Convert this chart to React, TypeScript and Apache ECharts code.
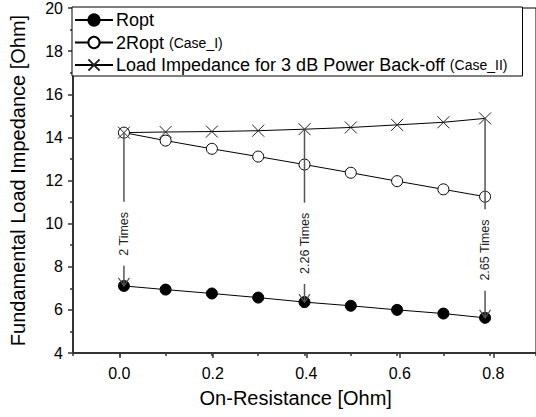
import React, { useEffect, useRef } from "react";
import * as echarts from "echarts";

const xValues = [0.01, 0.1, 0.2, 0.3, 0.4, 0.5, 0.6, 0.7, 0.79];
const ropt = [7.11, 6.94, 6.76, 6.57, 6.36, 6.19, 6.0, 5.83, 5.63];
const twoRopt = [14.22, 13.85, 13.47, 13.11, 12.74, 12.36, 11.97, 11.59, 11.25];
const backoff = [14.22, 14.25, 14.27, 14.31, 14.38, 14.46, 14.58, 14.7, 14.88];

const arrowX = [0.01, 0.4, 0.79];
const arrowTop = [14.22, 14.38, 14.88];
const arrowBottom = [7.11, 6.36, 5.63];
const arrowLabels = ["2 Times", "2.26 Times", "2.65 Times"];

const seriesNames = ["Ropt", "2Ropt", "Load Impedance for 3 dB Power Back-off"];
const seriesNotes = ["", "(Case_I)", "(Case_II)"];

const FONT = "'Liberation Sans', Arial, Helvetica, sans-serif";

export default function App() {
  const ref = useRef<HTMLDivElement>(null);
  useEffect(() => {
    document.body.style.margin = "0";
    const chart = echarts.init(ref.current!, null, { renderer: "svg" });
    const pair = (ys: number[]) => xValues.map((x, i) => [x, ys[i]]);
    const arrowData = arrowX.map((x, i) => [x, arrowTop[i], arrowBottom[i]]);
    const option: any = {
      animation: false,
      backgroundColor: "#fff",
      textStyle: { fontFamily: FONT },
      grid: [
        { left: 72.5, right: -4, top: 7, bottom: 64, show: true, borderColor: "#000", borderWidth: 1 },
        { left: 119.3, right: 42.7, top: 7, bottom: 64 },
      ],
      graphic: [
        {
          type: "rect",
          z: 2,
          shape: { x: 72, y: 7, width: 450.5, height: 69 },
          style: { fill: "#fff", stroke: "#000", lineWidth: 1 },
        },
      ],
      legend: {
        data: seriesNames,
        orient: "vertical",
        left: 72,
        top: 7,
        padding: [3, 4, 2, 2],
        itemGap: 2.5,
        itemWidth: 38,
        itemHeight: 14,
        borderWidth: 0,
        textStyle: {
          fontFamily: FONT,
          fontSize: 18,
          color: "#000",
          lineHeight: 20,
          padding: [0, 0, 0, -2],
          rich: {
            n: { fontFamily: FONT, fontSize: 14, color: "#000" },
          },
        },
        formatter: (name: string) => {
          const i = seriesNames.indexOf(name);
          return seriesNotes[i] ? `${name} {n|${seriesNotes[i]}}` : name;
        },
      },
      xAxis: [
        {
          type: "value",
          gridIndex: 0,
          min: -0.1,
          max: 0.9,
          interval: 0.1,
          name: "On-Resistance [Ohm]",
          nameLocation: "middle",
          nameGap: 35,
          nameTextStyle: { fontFamily: FONT, fontSize: 20, color: "#000", padding: [0, 17.6, 0, 0] },
          axisLine: { show: true, onZero: false, lineStyle: { color: "#333", width: 2 } },
          axisTick: { show: true, inside: false, length: 3, lineStyle: { color: "#333", width: 1.5 } },
          axisLabel: { show: false },
          splitLine: { show: false },
        },
        {
          type: "value",
          gridIndex: 1,
          min: 0,
          max: 0.8,
          interval: 0.2,
          axisLine: { show: false, onZero: false },
          axisTick: { show: true, inside: false, length: 5, lineStyle: { color: "#333", width: 1.5 } },
          axisLabel: {
            show: true,
            margin: 12,
            fontFamily: FONT,
            fontSize: 16,
            color: "#000",
            formatter: (v: number) => v.toFixed(1),
          },
          splitLine: { show: false },
        },
      ],
      yAxis: [
        {
          type: "value",
          gridIndex: 0,
          min: 4,
          max: 20,
          interval: 2,
          name: "Fundamental Load Impedance [Ohm]",
          nameLocation: "middle",
          nameGap: 45,
          nameRotate: 90,
          nameTextStyle: { fontFamily: FONT, fontSize: 20, color: "#000" },
          axisLine: { show: true, onZero: false, lineStyle: { color: "#333", width: 2 } },
          axisTick: { show: true, inside: false, length: 5, lineStyle: { color: "#333", width: 1.5 } },
          minorTick: { show: true, splitNumber: 2, length: 3, lineStyle: { color: "#333", width: 1.5 } },
          axisLabel: { margin: 10, fontFamily: FONT, fontSize: 16, color: "#000" },
          splitLine: { show: false },
        },
        {
          type: "value",
          gridIndex: 1,
          min: 4,
          max: 20,
          show: false,
        },
      ],
      series: [
        {
          name: seriesNames[0],
          type: "line",
          xAxisIndex: 0,
          yAxisIndex: 0,
          data: pair(ropt),
          symbol: "circle",
          symbolSize: 11,
          itemStyle: { color: "#000", borderColor: "#000", borderWidth: 1 },
          lineStyle: { color: "#000", width: 1 },
          z: 3,
        },
        {
          name: seriesNames[1],
          type: "line",
          xAxisIndex: 0,
          yAxisIndex: 0,
          data: pair(twoRopt),
          symbol: "circle",
          symbolSize: 11,
          itemStyle: { color: "#fff", borderColor: "#000", borderWidth: 1 },
          lineStyle: { color: "#000", width: 1 },
          z: 3,
        },
        {
          name: seriesNames[2],
          type: "line",
          xAxisIndex: 0,
          yAxisIndex: 0,
          data: pair(backoff),
          symbol: "path://M0,0L10,10M10,0L0,10",
          symbolSize: 12,
          itemStyle: { color: "none", borderColor: "#222", borderWidth: 1 },
          lineStyle: { color: "#000", width: 1 },
          z: 3,
        },
        {
          name: "arrows",
          type: "custom",
          xAxisIndex: 0,
          yAxisIndex: 0,
          data: arrowData,
          encode: { x: 0, y: [1, 2] },
          z: 5,
          renderItem: (params: any, api: any) => {
            const x = api.value(0);
            const top = api.coord([x, api.value(1)]);
            const bot = api.coord([x, api.value(2)]);
            const my = top[1] + (bot[1] - top[1]) * 0.66;
            return {
              type: "group",
              children: [
                {
                  type: "line",
                  shape: { x1: top[0], y1: top[1], x2: bot[0], y2: bot[1] },
                  style: { stroke: "#555", lineWidth: 1.5 },
                },
                {
                  type: "polyline",
                  shape: {
                    points: [
                      [bot[0] - 5.5, bot[1] - 8],
                      [bot[0], bot[1]],
                      [bot[0] + 5.5, bot[1] - 8],
                    ],
                  },
                  style: { stroke: "#555", fill: "none", lineWidth: 1.2 },
                },
                {
                  type: "text",
                  x: top[0],
                  y: my,
                  rotation: Math.PI / 2,
                  style: {
                    text: arrowLabels[params.dataIndex],
                    align: "center",
                    verticalAlign: "middle",
                    fontFamily: FONT,
                    fontSize: 12.5,
                    fill: "#222",
                    backgroundColor: "#fff",
                    padding: [1, 10],
                  },
                },
              ],
            };
          },
        },
      ],
    };
    chart.setOption(option);
    return () => chart.dispose();
  }, []);
  return <div ref={ref} style={{ width: 536, height: 417 }} />;
}
